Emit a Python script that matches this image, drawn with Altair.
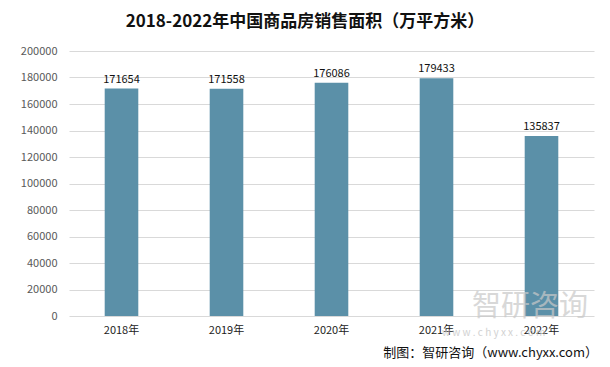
import altair as alt
import pandas as pd

years = ["2018年", "2019年", "2020年", "2021年", "2022年"]
values = [171654, 171558, 176086, 179433, 135837]
y_ticks = [0, 20000, 40000, 60000, 80000, 100000, 120000, 140000, 160000, 180000, 200000]
title_text = "2018-2022年中国商品房销售面积（万平方米）"
source_text = "制图：智研咨询（www.chyxx.com）"
watermark_text = "智研咨询"
watermark_url = "w w w . c h y x x . c o m"

df = pd.DataFrame({"year": years, "value": values})
FONT = "Noto Sans CJK SC"

x = alt.X("year:N", sort=years, title=None,
          scale=alt.Scale(paddingInner=0.68, paddingOuter=0.34),
          axis=alt.Axis(labelAngle=0, labelFont=FONT, labelFontSize=11, labelColor="#222222",
                        domain=False, ticks=False, labelPadding=8))
y = alt.Y("value:Q", title=None,
          scale=alt.Scale(domain=[0, 200000], nice=False),
          axis=alt.Axis(values=y_ticks, labelFont=FONT, labelFontSize=11,
                        labelColor="#595959", domain=False, ticks=False, gridColor="#D9D9D9",
                        labelPadding=12, labelOverlap=False, format="d"))

base = alt.Chart(df)
bars = base.mark_bar(color="#5B90A8").encode(x=x, y=y)
labels = base.mark_text(dy=-9, font=FONT, fontSize=11, color="#111111").encode(
    x=x, y=y, text="value:Q")

title = alt.Chart(pd.DataFrame({"t": [title_text]})).mark_text(
    font=FONT, fontSize=17, fontWeight="bold", color="#111111").encode(
    x=alt.value(236), y=alt.value(-29), text="t:N")
source = alt.Chart(pd.DataFrame({"t": [source_text]})).mark_text(
    font=FONT, fontSize=13, color="#111111", align="right").encode(
    x=alt.value(529), y=alt.value(302), text="t:N")
wm = alt.Chart(pd.DataFrame({"t": [watermark_text]})).mark_text(
    font=FONT, fontSize=29, color="#C8C8C8", opacity=0.7, align="left").encode(
    x=alt.value(403), y=alt.value(256), text="t:N")
wm2 = alt.Chart(pd.DataFrame({"t": [watermark_url]})).mark_text(
    font=FONT, fontSize=10, color="#C8C8C8", opacity=0.8, align="left").encode(
    x=alt.value(373), y=alt.value(282), text="t:N")

chart = alt.layer(bars, labels, wm, wm2, title, source).properties(
    width=525, height=265,
    autosize=alt.AutoSizeParams(type="none"),
    padding={"left": 61, "top": 43, "right": 8, "bottom": 50},
    background="white",
).configure_view(stroke=None)

chart.save("out.html", embed_options={"renderer": "svg", "actions": False})
